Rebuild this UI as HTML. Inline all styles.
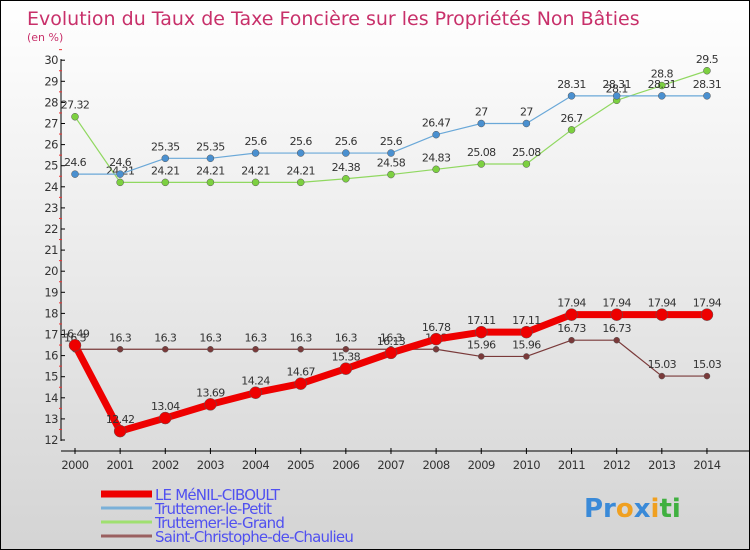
<!DOCTYPE html>
<html><head><meta charset="utf-8"><style>
body{margin:0}
#c{width:748px;height:548px;border:1px solid #000;background:linear-gradient(#fff,#d4d4d4);position:relative;font-family:"DejaVu Sans","Liberation Sans",sans-serif;overflow:hidden}
</style></head><body>
<div id="c">
<svg id="s" width="748" height="548"></svg>
</div>
<script>
const years=["2000","2001","2002","2003","2004","2005","2006","2007","2008","2009","2010","2011","2012","2013","2014"];
const menil=[16.49,12.42,13.04,13.69,14.24,14.67,15.38,16.13,16.78,17.11,17.11,17.94,17.94,17.94,17.94];
const petit=[24.6,24.6,25.35,25.35,25.6,25.6,25.6,25.6,26.47,27,27,28.31,28.31,28.31,28.31];
const grand=[27.32,24.21,24.21,24.21,24.21,24.21,24.38,24.58,24.83,25.08,25.08,26.7,28.1,28.8,29.5];
const saint=[16.3,16.3,16.3,16.3,16.3,16.3,16.3,16.3,16.3,15.96,15.96,16.73,16.73,15.03,15.03];
const yTicks=[12,13,14,15,16,17,18,19,20,21,22,23,24,25,26,27,28,29,30];
const NS="http://www.w3.org/2000/svg",s=document.getElementById('s');
const X=i=>74+i*45.14, Y=v=>439-(v-12)*21.1;
function el(t,a,p){const e=document.createElementNS(NS,t);for(const k in a)e.setAttribute(k,a[k]);(p||s).appendChild(e);return e;}
function tx(x,y,str,a){const e=el('text',Object.assign({x:x,y:y},a));e.textContent=str;return e;}
let t=tx(26,24,"Evolution du Taux de Taxe Foncière sur les Propriétés Non Bâties",{fill:"#c8306a","font-size":19});

t=tx(26,40,"(en %)",{fill:"#c8306a","font-size":11});

let ax=el('line',{x1:60,y1:58,x2:60,y2:440,stroke:"#000"});

yTicks.forEach(v=>{el('line',{x1:60,y1:Y(v),x2:64,y2:Y(v),stroke:"#000"});
 el('line',{x1:58,y1:Y(v+0.5),x2:61,y2:Y(v+0.5),stroke:"#e33"});
 const l=tx(57,Y(v)+4,String(v),{fill:"#333","font-size":11.5,"text-anchor":"end","letter-spacing":"-0.5"});
 });
ax=el('line',{x1:60,y1:450,x2:748,y2:450,stroke:"#000"});

years.forEach((y,i)=>{el('line',{x1:X(i),y1:447,x2:X(i),y2:453,stroke:"#000"});
 const l=tx(X(i),468,y,{fill:"#333","font-size":11.5,"text-anchor":"middle","letter-spacing":"-0.5"});
 });
function series(d,color,dot,w,r,name,lab){
 const g=el('g',{});
 el('polyline',{points:d.map((v,i)=>X(i)+","+Y(v)).join(" "),fill:"none",stroke:color,"stroke-width":w,"stroke-linejoin":"round"},g);
 d.forEach((v,i)=>{const c=el('circle',{cx:X(i),cy:Y(v),r:r,fill:dot,stroke:"#555","stroke-width":0.5},g);
  
  tx(X(i),Y(v)-8,String(v),{fill:"#333","font-size":11,"text-anchor":"middle","letter-spacing":"-0.6"},g);});
}
series(saint,"#7a3a3a","#7a3a3a",1.2,3,"series-saint-christophe");
series(grand,"#90d860","#7cd040",1.2,3.5,"series-truttemer-grand");
series(petit,"#6aa8d8","#4a90d0",1.2,3.5,"series-truttemer-petit");
series(menil,"#e00","#e00",7,6,"series-le-menil-ciboult");
const leg=[["LE MéNIL-CIBOULT","#e00",7],["Truttemer-le-Petit","#7ab0d8",3],["Truttemer-le-Grand","#a0e070",3],["Saint-Christophe-de-Chaulieu","#9a6060",3]];
leg.forEach((l,i)=>{const y=493+i*14;const g=el('g',{});
 el('line',{x1:100,y1:y,x2:151,y2:y,stroke:l[1],"stroke-width":l[2]},g);
 tx(154,y+6,l[0],{fill:"#5050f0","font-size":15,"letter-spacing":"-0.8"},g);});
const lg=el('text',{x:583,y:516,"font-size":26,"font-weight":"bold"});
[["Pr","#3a8ad8"],["o","#f0a020"],["x","#3a8ad8"],["i","#f0a020"],["ti","#40b040"]].forEach(p=>{const ts=el('tspan',{fill:p[1]},lg);ts.textContent=p[0];});
</script>
</body></html>
